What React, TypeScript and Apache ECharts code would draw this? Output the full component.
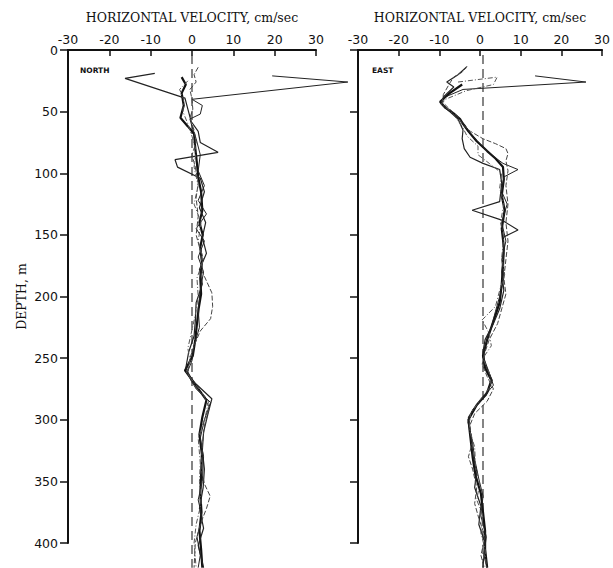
import React, { useEffect, useRef } from "react";
import * as echarts from "echarts";

// Velocity ticks / depth ticks
const velocityTicks = [-30, -20, -10, 0, 10, 20, 30];
const depthTicks = [0, 50, 100, 150, 200, 250, 300, 350, 400];

// NORTH component profiles: [velocity cm/s, depth m]
const north1: number[][] = [[-2.5,22],[-1.5,28],[-2.5,35],[-2,45],[-2.8,55],[-1,62],[0.5,68],[0.8,80],[1.2,92],[1.5,103],[2.2,115],[2.5,130],[1.8,140],[2.6,150],[2,160],[2.4,172],[2,185],[2.2,198],[1.6,210],[1.2,222],[0.8,235],[0.2,248],[-1.7,260],[0.5,270],[3.5,284],[2.5,298],[1.8,312],[2.4,328],[2.2,345],[2,360],[2.3,375],[1.8,390],[2.2,405],[2.5,420]];
const north2: number[][] = [[19.4,21],[37.7,26],[0,40],[2.5,45],[2,52],[-0.5,56],[0,62],[1,72],[2,85],[1.5,98],[3,110],[1.5,122],[3.5,133],[1,145],[3,155],[1.5,168],[2.8,180],[2,195],[1.5,210],[1.8,225],[0.5,240],[0,252],[-1.2,262],[1,275],[4.5,286],[3,300],[2,315],[2.8,330],[2.5,350],[1.5,365],[2.5,380],[1.2,395],[2,410],[1.5,420]];
const north3: number[][] = [[-9,19],[-16.2,23],[-1.7,39],[-1,48],[-0.2,58],[1.5,66],[2,75],[6.3,83],[-4.1,89],[-3.5,95],[2,104],[3,115],[1.8,128],[3.3,140],[2.5,152],[3.5,165],[1.8,178],[2.5,190],[1,205],[0.8,220],[0.5,232],[-0.8,245],[-1.5,258],[0,268],[4.8,283],[3.8,296],[2.8,310],[2.5,325],[3,340],[2.7,355],[1.8,372],[2.8,388],[1.5,402],[2.8,420]];
const north4: number[][] = [[1.5,14],[0.5,20],[1,26],[-0.5,32],[0,40],[0.2,48],[-0.5,55],[0.5,65],[1,75],[0,85],[0.8,95],[1.5,108],[1,120],[1.5,135],[1,150],[2.2,165],[2.5,180],[4.8,197],[5,208],[4.5,218],[2,228],[0.5,240],[-0.5,250],[-1,262],[0,270],[3,282],[4.2,290],[3,305],[2.5,320],[2.2,340],[3,352],[4.4,362],[3.5,372],[2,385],[0.8,400],[0.5,420]];
const north5: number[][] = [[-1,25],[-3,32],[-2,40],[-2.2,50],[-1,60],[0,70],[1,82],[0.5,95],[1.5,110],[0.5,125],[2.2,140],[1.5,155],[2.8,170],[1.2,185],[1.5,200],[0.8,215],[-0.2,230],[-1,242],[-0.5,252],[-1.3,262],[1,272],[4,285],[3.2,298],[1.5,315],[2,335],[1.8,350],[2.2,368],[1,385],[0.5,400],[1,420]];

// EAST component profiles: [velocity cm/s, depth m]
const east1: number[][] = [[-5,28],[-8,35],[-10.3,42],[-9,47],[-7.2,51],[-5.5,56],[-4.8,60],[-3.5,66],[-1.5,74],[1,82],[3,88],[4.8,95],[5,105],[4.5,118],[5.2,130],[4.5,145],[5,160],[4.8,175],[4.5,190],[4,205],[2.5,220],[1,235],[0,248],[0.5,258],[2,268],[1,278],[-1.5,288],[-3.5,300],[-3,315],[-2.5,330],[-1.8,345],[-0.5,360],[0,375],[0.5,390],[0.5,405],[1,420]];
const east2: number[][] = [[12.5,21],[24.7,26],[-4.8,32],[-9,38],[-10,43],[-7,52],[-4.5,60],[-3,68],[-0.5,77],[2,85],[4.8,92],[8.4,97],[5,103],[4.5,115],[5.8,125],[4.5,140],[5.5,155],[4.5,170],[5,185],[4,200],[3,212],[2,225],[0.5,240],[0.2,250],[1.5,262],[2.5,272],[0,282],[-2.5,292],[-3.6,302],[-2.5,318],[-2,332],[-1,348],[0,362],[-0.5,378],[0.8,395],[0.2,410],[1,420]];
const east3: number[][] = [[-4,14],[-6,20],[-8.7,26],[-7,30],[-9.5,38],[-10,44],[-8,50],[-6,56],[-4.8,65],[-5,72],[-4.5,80],[-3.1,87],[0,92],[4,97],[4.5,108],[4,123],[-2.6,130],[4.5,138],[8.4,146],[4.8,152],[5,165],[4.5,180],[5,195],[4,210],[2.5,222],[0.5,235],[0,245],[0.5,255],[2.2,268],[0.8,280],[-2,290],[-3.5,298],[-3,312],[-2.5,328],[-1.5,342],[-2,355],[-0.5,370],[-1,385],[0.5,400],[0,420]];
const east4: number[][] = [[-3.8,13],[-5,18],[-7,22],[-8,27],[-9.5,36],[-9.8,42],[-8,48],[-6,54],[-5,60],[-3,66],[0,72],[3,76],[5.5,80],[6,84],[5.5,90],[6,98],[5.5,110],[6,125],[5.5,140],[6,155],[5.5,170],[5,185],[5.5,198],[4.5,210],[3.5,222],[1.5,235],[0.5,245],[-0.2,255],[1,265],[2.5,275],[1,285],[-2,295],[-3.2,305],[-2.5,318],[-3.5,330],[-2.5,340],[-1.5,355],[-2,368],[-1,380],[0.5,395],[-0.5,410],[0.3,420]];
const east5: number[][] = [[-6,26],[3.4,22],[2.5,28],[-4,33],[-9,40],[-10,44],[-8,49],[-6.5,55],[-5,62],[-3.8,70],[-1.2,78],[-1.2,85],[1.5,92],[4.5,100],[4,112],[5,125],[4.2,140],[5,152],[4.5,168],[5.2,182],[4,195],[3,208],[-0.2,219],[1.5,230],[2,240],[0,250],[1.5,262],[2,272],[-0.5,283],[-3,295],[-3.3,308],[-2,322],[-1.8,338],[-0.8,352],[-1.5,365],[0,378],[-0.5,392],[0.5,405],[0.8,420]];

const zeroLine: number[][] = [[0, 4], [0, 420]];

const northProfiles = [north1, north2, north3, north4, north5];
const eastProfiles = [east1, east2, east3, east4, east5];

const styles = [
  { width: 2.2, type: "solid" as any, color: "#111" },
  { width: 1, type: "solid" as any, color: "#222" },
  { width: 1.2, type: "solid" as any, color: "#222" },
  { width: 1, type: [5, 2] as any, color: "#444" },
  { width: 1, type: [5, 2, 1, 2] as any, color: "#555" },
];

// Layout: visible panels (axes only) and hidden data grids with the same scale
const PANEL_LEFT = [68, 358];
const PANEL_WIDTH = [248, 250];
const PX_PER_M = 493 / 400;
const DATA_XMAX = [45, 30];
const DATA_DMAX = 420;

export default function App() {
  const ref = useRef<HTMLDivElement>(null);
  useEffect(() => {
    if (!ref.current) return;
    const chart = echarts.init(ref.current, null, { renderer: "svg" });
    const xAxisBase = (gridIndex: number) => ({
      type: "value",
      gridIndex,
      position: "top",
      min: -30,
      max: 30,
      interval: 10,
      name: "HORIZONTAL VELOCITY, cm/sec",
      nameLocation: "middle",
      nameGap: 26,
      nameTextStyle: { fontFamily: "DejaVu Serif", fontSize: 12.5, color: "#111" },
      axisLine: { show: true, onZero: false, lineStyle: { color: "#111", width: 2 } },
      axisTick: { show: true, inside: true, length: 6, lineStyle: { color: "#111", width: 1.5 } },
      axisLabel: {
        color: "#111",
        fontFamily: "DejaVu Sans",
        fontSize: 12.5,
        margin: 4,
        formatter: (v: number) => (velocityTicks.includes(v) ? String(v) : ""),
      },
      splitLine: { show: false },
    });
    const yAxisBase = (gridIndex: number, labels: boolean) => ({
      type: "value",
      gridIndex,
      position: "left",
      inverse: true,
      min: 0,
      max: 400,
      interval: 50,
      name: labels ? "DEPTH, m" : "",
      nameLocation: "middle",
      nameGap: 40,
      nameTextStyle: { fontFamily: "DejaVu Serif", fontSize: 12.5, color: "#111" },
      axisLine: { show: true, onZero: false, lineStyle: { color: "#111", width: 2 } },
      axisTick: { show: true, inside: false, length: 8, lineStyle: { color: "#111", width: 1.5 } },
      axisLabel: {
        show: labels,
        color: "#111",
        fontFamily: "DejaVu Sans",
        fontSize: 12.5,
        margin: 10,
        formatter: (v: number) => (depthTicks.includes(v) ? String(v) : ""),
      },
      splitLine: { show: false },
    });
    const hiddenX = (gridIndex: number, max: number) => ({
      type: "value", gridIndex, position: "top", min: -30, max, show: false,
    });
    const hiddenY = (gridIndex: number) => ({
      type: "value", gridIndex, inverse: true, min: 0, max: DATA_DMAX, show: false,
    });
    const mkSeries = (profiles: number[][][], idx: number) => [
      {
        type: "line",
        xAxisIndex: idx,
        yAxisIndex: idx,
        data: zeroLine,
        symbol: "none",
        silent: true,
        lineStyle: { color: "#444", width: 1.3, type: [9, 5] },
      },
      ...profiles.map((p, i) => ({
        type: "line",
        xAxisIndex: idx,
        yAxisIndex: idx,
        data: p,
        symbol: "none",
        smooth: false,
        lineStyle: styles[i],
      })),
    ];
    chart.setOption({
      animation: false,
      backgroundColor: "#fff",
      grid: [
        { left: PANEL_LEFT[0], top: 50, width: PANEL_WIDTH[0], height: 493 },
        { left: PANEL_LEFT[1], top: 50, width: PANEL_WIDTH[1], height: 493 },
        { left: PANEL_LEFT[0], top: 50, width: (PANEL_WIDTH[0] / 60) * (DATA_XMAX[0] + 30), height: PX_PER_M * DATA_DMAX },
        { left: PANEL_LEFT[1], top: 50, width: (PANEL_WIDTH[1] / 60) * (DATA_XMAX[1] + 30), height: PX_PER_M * DATA_DMAX },
      ],
      xAxis: [xAxisBase(0), xAxisBase(1), hiddenX(2, DATA_XMAX[0]), hiddenX(3, DATA_XMAX[1])],
      yAxis: [yAxisBase(0, true), yAxisBase(1, false), hiddenY(2), hiddenY(3)],
      series: [...mkSeries(northProfiles, 2), ...mkSeries(eastProfiles, 3)],
      graphic: [
        { type: "text", left: 80, top: 66, style: { text: "NORTH", fontFamily: "DejaVu Sans", fontWeight: "bold", fontSize: 7.5, fill: "#111" } },
        { type: "text", left: 372, top: 66, style: { text: "EAST", fontFamily: "DejaVu Sans", fontWeight: "bold", fontSize: 7.5, fill: "#111" } },
      ],
    });
    return () => chart.dispose();
  }, []);
  return (
    <div
      ref={ref}
      style={{ position: "absolute", left: 0, top: 0, width: 613, height: 568, background: "#fff" }}
    />
  );
}
